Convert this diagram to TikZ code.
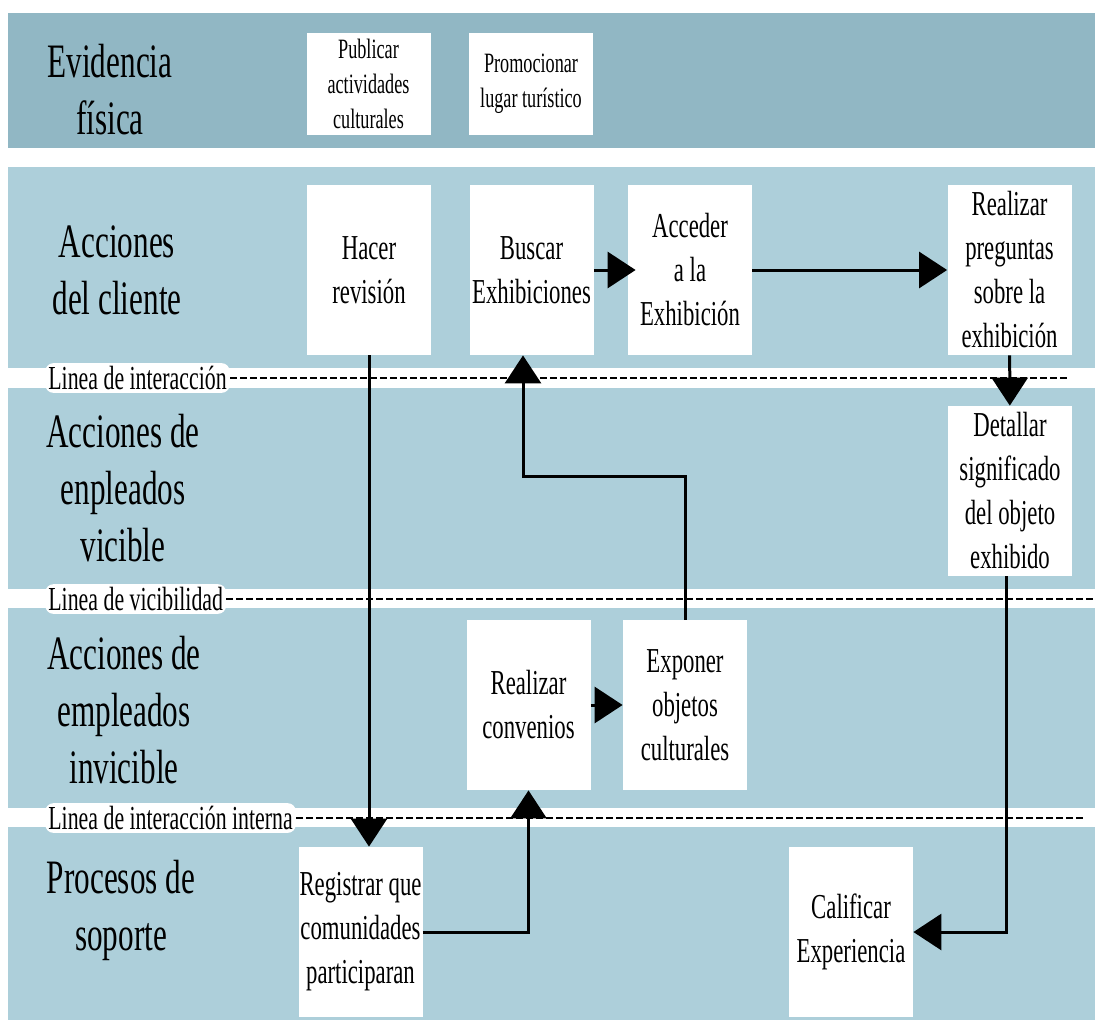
\documentclass[tikz,border=0pt]{standalone}
\usepackage{fontspec}
\setmainfont{Liberation Serif}[FakeStretch=0.65]
\usepackage{xcolor}
\usetikzlibrary{arrows.meta, calc, positioning}
\definecolor{bandtop}{RGB}{145,183,196}
\definecolor{lanebg}{RGB}{173,207,218}

\begin{document}
\begin{tikzpicture}[x=0.5pt, y=-0.5pt,
    box/.style={fill=white, inner sep=0pt, minimum width=62pt, minimum height=85pt, align=center, font=\fontsize{17.5}{22}\selectfont},
    smallbox/.style={box, minimum height=51pt, font=\fontsize{14}{17.5}\selectfont},
    lanelabel/.style={align=center, font=\fontsize{24}{28.5}\selectfont},
    linelabel/.style={anchor=west, fill=white, rounded corners=4pt, inner sep=1.5pt, font=\fontsize{16.8}{19}\selectfont},
    sep/.style={dash pattern=on 3.5pt off 1.5pt, line width=1pt},
    flow/.style={line width=1.5pt, -{Triangle[length=14pt, width=18pt]}}]
\useasboundingbox (0,0) rectangle (1095,1023);

% Lanes
\fill[bandtop] (8,13) rectangle (1095,148);
\fill[lanebg] (8,167) rectangle (1095,1020);
\fill[white] (8,368) rectangle (1095,388);
\fill[white] (8,589) rectangle (1095,608);
\fill[white] (8,808) rectangle (1095,827);

% Lane titles
\node[lanelabel] (evid) at (110,90) {Evidencia\\física};
\node[lanelabel] (cliente) at (117,270) {Acciones\\del cliente};
\node[lanelabel] (visible) at (123,488) {Acciones de\\enpleados\\vicible};
\node[lanelabel] (invisible) at (124,710) {Acciones de\\empleados\\invicible};
\node[lanelabel] (soporte) at (121,910) {Procesos de\\soporte};

% Separation lines
\coordinate (inter end) at (1068,378);
\coordinate (visib end) at (1095,599);
\coordinate (interna end) at (1085,818);
\node[linelabel] (inter) at (45,378) {Linea de interacción};
\node[linelabel] (visib) at (45,599) {Linea de vicibilidad};
\node[linelabel] (interna) at (45,818) {Linea de interacción interna};
\draw[sep] (inter.east) -- (inter end);
\draw[sep] (visib.east) -- (visib end);
\draw[sep] (interna.east) -- (interna end);

% Activities
\node[smallbox] (publicar) at (368.5,84) {Publicar\\actividades\\culturales};
\node[smallbox] (promocionar) at (531,84) {Promocionar\\lugar turístico};
\node[box] (hacer) at (369,270) {Hacer\\revisión};
\node[box] (buscar) at (531.5,270) {Buscar\\Exhibiciones};
\node[box] (acceder) at (690,270) {Acceder\\a la\\Exhibición};
\node[box] (preguntas) at (1009.5,270) {Realizar\\preguntas\\sobre la\\exhibición};
\node[box] (detallar) at (1010,491) {Detallar\\significado\\del objeto\\exhibido};
\node[box] (convenios) at (528.5,705) {Realizar\\convenios};
\node[box] (exponer) at (685,705) {Exponer\\objetos\\culturales};
\node[box] (registrar) at (360.5,932) {Registrar que\\comunidades\\participaran};
\node[box] (calificar) at (851,932) {Calificar\\Experiencia};

% Flow
\coordinate (turn) at (523,476);
\draw[flow, shorten >=-4pt] (buscar) -- (acceder);
\draw[flow] (acceder) -- (preguntas);
\draw[flow] (preguntas) -- (detallar);
\draw[flow] (hacer.south) -- (hacer.south |- registrar.north);
\draw[flow] (exponer.north) |- (turn) -- (turn |- buscar.south);
\draw[flow] (registrar.east) -| (convenios.south);
\draw[flow] (convenios) -- (exponer);
\draw[flow] ([xshift=-2pt]detallar.south) |- (calificar.east);
\end{tikzpicture}
\end{document}
